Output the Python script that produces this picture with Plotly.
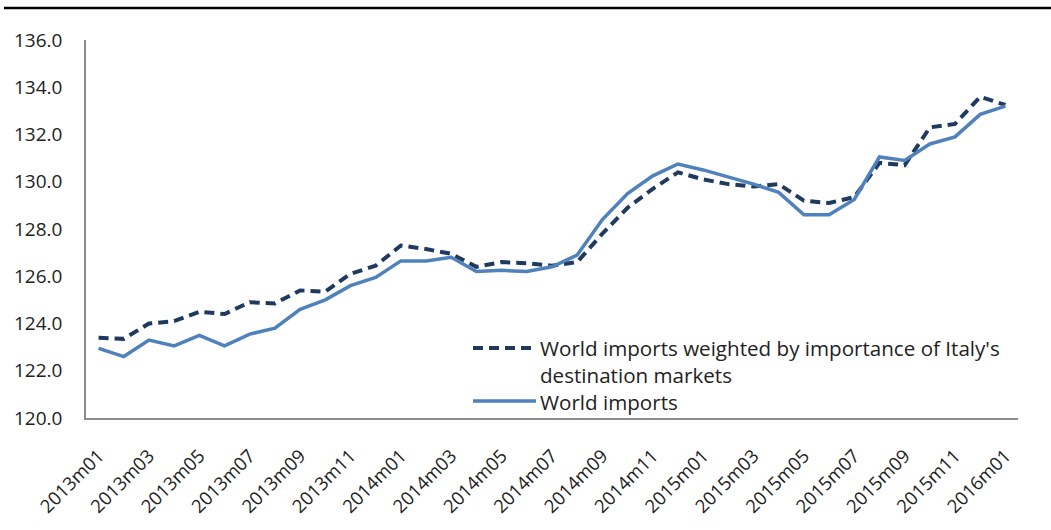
import plotly.graph_objects as go

# Monthly periods, 2013m01 .. 2016m01
periods = [f"{y}m{m:02d}" for y in (2013, 2014, 2015) for m in range(1, 13)] + ["2016m01"]

weighted_imports = [
    123.4, 123.35, 124.0, 124.1, 124.5, 124.4, 124.9, 124.85, 125.4, 125.35, 126.1, 126.45,
    127.3, 127.15, 126.95, 126.4, 126.6, 126.55, 126.45, 126.6, 127.8, 128.9, 129.7, 130.4,
    130.1, 129.9, 129.8, 129.9, 129.2, 129.1, 129.35, 130.8, 130.7, 132.3, 132.45, 133.6,
    133.25,
]
world_imports = [
    122.95, 122.6, 123.3, 123.05, 123.5, 123.05, 123.55, 123.8, 124.6, 125.0, 125.6, 125.95,
    126.65, 126.65, 126.8, 126.2, 126.25, 126.2, 126.4, 126.9, 128.4, 129.5, 130.25, 130.75,
    130.5, 130.2, 129.9, 129.55, 128.6, 128.6, 129.25, 131.05, 130.9, 131.6, 131.9, 132.85,
    133.2,
]
y_ticks = [120, 122, 124, 126, 128, 130, 132, 134, 136]
x_tick_labels = periods[::2]

weighted_name = "World imports weighted by importance of Italy's<br>destination markets"
world_name = "World imports"

DARK = "#1F3A5F"
BLUE = "#4F81BD"
FONT = "Open Sans"
TXT = "#222222"

fig = go.Figure()
fig.add_trace(go.Scatter(
    x=periods, y=weighted_imports, mode="lines", name=weighted_name,
    line=dict(color=DARK, width=4, dash="10px,6px"), showlegend=False,
))
fig.add_trace(go.Scatter(
    x=periods, y=world_imports, mode="lines", name=world_name,
    line=dict(color=BLUE, width=3.5), showlegend=False,
))

# plot area in pixels: x 86..1018, y 40..418
L, R, T, B = 86, 33, 40, 112
W, H = 1051, 530
PW, PH = W - L - R, H - T - B


def px(x):
    return (x - L) / PW


def py(y):
    return (H - B - y) / PH


shapes = [
    # heavy rule across the top
    dict(type="line", xref="paper", yref="paper", x0=px(4), x1=px(1051), y0=py(8), y1=py(8),
         line=dict(color="#000000", width=2.5)),
    # legend samples
    dict(type="line", xref="paper", yref="paper", x0=px(473), x1=px(532), y0=py(348), y1=py(348),
         line=dict(color=DARK, width=4, dash="10px,6px")),
    dict(type="line", xref="paper", yref="paper", x0=px(473), x1=px(536), y0=py(401), y1=py(401),
         line=dict(color=BLUE, width=3.5)),
]

# legend text as one left-aligned block (three lines)
annotations = [dict(
    text=weighted_name + "<br>" + world_name,
    xref="paper", yref="paper", x=px(539), y=py(375),
    xanchor="left", yanchor="middle", align="left", showarrow=False, borderpad=0,
    font=dict(family=FONT, size=20.6, color=TXT),
)]

fig.update_layout(
    width=W, height=H,
    margin=dict(l=L, r=R, t=T, b=B),
    paper_bgcolor="white", plot_bgcolor="white",
    shapes=shapes, annotations=annotations,
    font=dict(family=FONT, size=18, color=TXT),
)
fig.update_xaxes(
    type="category", range=[-0.5, len(periods) - 0.5], automargin=False,
    tickmode="array", tickvals=x_tick_labels, ticktext=x_tick_labels,
    tickangle=-45, showgrid=False, showline=True, linecolor="#8C8C8C", linewidth=1.5,
    ticks="", ticklabelstandoff=18, tickfont=dict(family=FONT, size=18.5, color=TXT),
)
fig.update_yaxes(
    range=[120, 136], tickmode="array", tickvals=y_ticks, tickformat=".1f", automargin=False,
    showgrid=False, showline=True, linecolor="#8C8C8C", linewidth=1.5,
    ticks="", ticklabelstandoff=18, tickfont=dict(family=FONT, size=19, color=TXT),
    zeroline=False,
)

fig.write_html("out.html")
